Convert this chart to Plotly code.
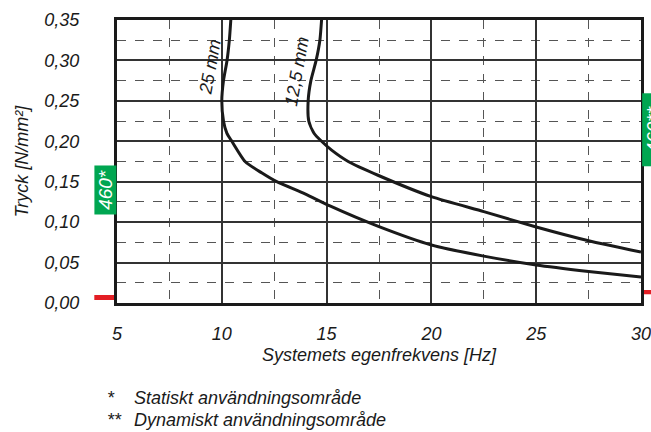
import plotly.graph_objects as go

# Data
hz_25 = [10.43, 10.36, 10.25, 10.08, 10.0, 10.08, 10.24, 10.48, 11.11, 11.9, 12.62, 13.97, 15.16, 17.5, 20.0, 22.5, 25.0, 27.5, 30.0]
p_25 = [0.35, 0.325, 0.30, 0.275, 0.25, 0.225, 0.21, 0.20, 0.175, 0.161, 0.150, 0.135, 0.120, 0.0944, 0.0717, 0.058, 0.047, 0.039, 0.032]
hz_125 = [14.76, 14.68, 14.5, 14.25, 14.12, 14.15, 14.4, 14.76, 15.24, 16.03, 17.45, 20.0, 22.5, 25.0, 27.5, 30.0]
p_125 = [0.35, 0.325, 0.30, 0.275, 0.25, 0.225, 0.21, 0.20, 0.189, 0.175, 0.158, 0.1315, 0.113, 0.094, 0.077, 0.063]
curve_labels = ["25 mm", "12,5 mm"]
x_ticks = [5, 10, 15, 20, 25, 30]
y_ticks = [0.0, 0.05, 0.10, 0.15, 0.20, 0.25, 0.30, 0.35]
footnotes = [("*", "Statiskt användningsområde"), ("**", "Dynamiskt användningsområde")]
box_labels = ["460*", "460**"]

FONT = "Liberation Sans, Arial, sans-serif"
GREEN = "#00a651"
RED = "#e31e24"
INK = "#1a1a1a"

fig = go.Figure()
for xs, ys in [(hz_25, p_25), (hz_125, p_125)]:
    fig.add_trace(go.Scatter(x=xs, y=ys, mode="lines", line=dict(color=INK, width=3, shape="spline", smoothing=0.6),
                             hoverinfo="skip", showlegend=False))

fig.update_layout(
    width=651, height=432,
    margin=dict(l=117, r=10, t=20, b=129),
    paper_bgcolor="white", plot_bgcolor="white",
    separators=",.",
    font=dict(family=FONT, size=17, color=INK, style="italic"),
    showlegend=False,
)
fig.update_xaxes(range=[5, 30], tickvals=x_ticks, ticktext=[str(v) for v in x_ticks],
                 showline=True, mirror=True, linecolor=INK, linewidth=3, automargin=False,
                 ticklabeloverflow="allow",
                 showgrid=True, gridcolor="#333333", gridwidth=1.5, zeroline=False,
                 ticks="", ticklabelstandoff=12,
                 tickfont=dict(family=FONT, size=18, style="italic"),
                 minor=dict(dtick=2.5, tick0=5, showgrid=True, gridcolor="#555555", griddash="dash", gridwidth=1),
                 title=dict(text="Systemets egenfrekvens [Hz]", font=dict(family=FONT, size=18, style="italic"), standoff=6))
fig.update_yaxes(range=[0, 0.35], tickvals=y_ticks, tickformat=".2f",
                 showline=True, mirror=True, linecolor=INK, linewidth=3, automargin=False,
                 ticklabeloverflow="allow",
                 showgrid=True, gridcolor="#333333", gridwidth=1.5, zeroline=False,
                 ticks="", ticklabelstandoff=31,
                 tickfont=dict(family=FONT, size=18, style="italic"),
                 minor=dict(dtick=0.025, tick0=0, showgrid=True, gridcolor="#555555", griddash="dash", gridwidth=1),
                 title=dict(text="Tryck [N/mm²]", font=dict(family=FONT, size=18, style="italic"), standoff=12))

# Red marks
fig.add_shape(type="rect", xref="paper", yref="y", x0=-0.0433, x1=-0.0027, y0=0.0037, y1=0.0099,
              fillcolor=RED, line=dict(width=0), layer="below")
fig.add_shape(type="rect", xref="paper", yref="y", x0=1.003, x1=1.04, y0=0.0108, y1=0.0161,
              fillcolor=RED, line=dict(width=0), layer="below")

# Green label boxes (annotation with background, rotated)
fig.add_annotation(xref="paper", yref="y", x=-0.023, y=0.1397, text=box_labels[0], showarrow=False,
                   xanchor="center", yanchor="middle",
                   textangle=-90, bgcolor=GREEN, width=46, height=19, borderpad=1,
                   font=dict(family=FONT, size=19, color="white", style="italic"))
fig.add_annotation(xref="paper", yref="y", x=1.0233, y=0.2145, text=box_labels[1], showarrow=False,
                   xanchor="center", yanchor="middle",
                   textangle=-90, bgcolor=GREEN, width=70, height=19, borderpad=1,
                   font=dict(family=FONT, size=19, color="white", style="italic"))

# Curve labels
fig.add_annotation(x=9.44, y=0.292, text=curve_labels[0], showarrow=False, textangle=-80,
                   font=dict(family=FONT, size=18, style="italic"))
fig.add_annotation(x=13.57, y=0.286, text=curve_labels[1], showarrow=False, textangle=-80,
                   font=dict(family=FONT, size=18, style="italic"))

# Footnotes
for i, (mark, txt) in enumerate(footnotes):
    yy = -0.3357 - i * 0.0777
    fig.add_annotation(xref="paper", yref="paper", x=-0.022, y=yy, text=mark, showarrow=False,
                       xanchor="left", yanchor="middle", font=dict(family=FONT, size=18, style="italic"))
    fig.add_annotation(xref="paper", yref="paper", x=0.029, y=yy, text=txt, showarrow=False,
                       xanchor="left", yanchor="middle", font=dict(family=FONT, size=18, style="italic"))

fig.write_html("out.html")
